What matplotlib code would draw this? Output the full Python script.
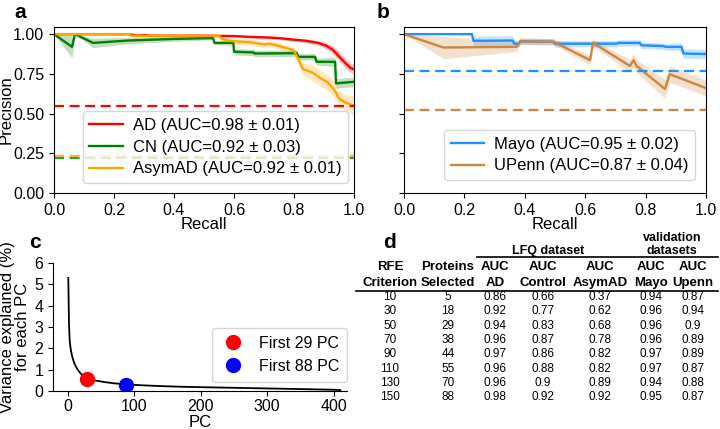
import numpy as np
import matplotlib
matplotlib.use('Agg')
import matplotlib.pyplot as plt

plt.rcParams['font.family'] = ['Liberation Sans', 'DejaVu Sans']

# ---- panel a: PR curves, LFQ dataset
ad_x = [0, 0.25, 0.28, 0.30, 0.32, 0.40, 0.50, 0.60, 0.65, 0.70, 0.75, 0.80, 0.84, 0.88, 0.91, 0.93, 0.95, 0.97, 0.99, 1.0]
ad_y = [1.0, 1.0, 0.99, 0.995, 0.99, 0.99, 0.99, 0.988, 0.983, 0.98, 0.975, 0.965, 0.958, 0.945, 0.925, 0.9, 0.86, 0.82, 0.785, 0.78]
ad_err = [0, 0, 0.005, 0.005, 0.005, 0.005, 0.005, 0.005, 0.008, 0.01, 0.01, 0.01, 0.012, 0.015, 0.02, 0.025, 0.03, 0.03, 0.03, 0.03]

cn_x = [0, 0.06, 0.07, 0.13, 0.25, 0.40, 0.53, 0.535, 0.598, 0.60, 0.664, 0.67, 0.809, 0.815, 0.87, 0.875, 0.937, 0.94, 1.0]
cn_y = [1.0, 0.92, 1.0, 0.945, 0.96, 0.97, 0.975, 0.945, 0.945, 0.889, 0.885, 0.878, 0.88, 0.857, 0.857, 0.826, 0.826, 0.69, 0.70]
cn_err = [0, 0.07, 0.0, 0.03, 0.02, 0.015, 0.01, 0.01, 0.015, 0.02, 0.02, 0.02, 0.02, 0.02, 0.02, 0.02, 0.03, 0.03, 0.03]

asym_x = [0, 0.25, 0.26, 0.55, 0.56, 0.58, 0.60, 0.65, 0.70, 0.72, 0.75, 0.78, 0.80, 0.81, 0.83, 0.86, 0.89, 0.91, 0.93, 0.94, 0.95, 0.97, 1.0]
asym_y = [1.0, 1.0, 0.99, 0.99, 0.97, 0.96, 0.955, 0.95, 0.935, 0.94, 0.925, 0.91, 0.895, 0.86, 0.78, 0.76, 0.72, 0.70, 0.66, 0.63, 0.595, 0.57, 0.55]
asym_err = [0, 0, 0.01, 0.01, 0.015, 0.02, 0.02, 0.02, 0.02, 0.02, 0.02, 0.02, 0.02, 0.03, 0.04, 0.05, 0.05, 0.05, 0.05, 0.05, 0.05, 0.05, 0.06]

base_a = {'AD': 0.55, 'CN': 0.22, 'AsymAD': 0.235}

# ---- panel b: validation datasets
mayo_x = [0, 0.225, 0.23, 0.36, 0.365, 0.38, 0.385, 0.494, 0.50, 0.704, 0.71, 0.781, 0.786, 0.859, 0.865, 0.919, 0.925, 1.0]
mayo_y = [1.0, 1.0, 0.958, 0.96, 0.94, 0.94, 0.955, 0.952, 0.94, 0.94, 0.945, 0.945, 0.93, 0.925, 0.92, 0.92, 0.878, 0.875]
mayo_err = [0, 0, 0.03, 0.03, 0.02, 0.02, 0.02, 0.02, 0.02, 0.02, 0.02, 0.02, 0.02, 0.02, 0.02, 0.025, 0.03, 0.03]

upenn_x = [0, 0.13, 0.373, 0.384, 0.495, 0.616, 0.626, 0.748, 0.76, 0.77, 0.864, 0.88, 1.0]
upenn_y = [1.0, 0.916, 0.92, 0.955, 0.952, 0.836, 0.945, 0.80, 0.836, 0.80, 0.655, 0.748, 0.66]
upenn_err = [0, 0.07, 0.03, 0.02, 0.02, 0.03, 0.02, 0.04, 0.04, 0.04, 0.06, 0.05, 0.05]

base_b = {'Mayo': 0.767, 'UPenn': 0.522}

# ---- panel c: PCA explained variance
pc = [1, 2, 3, 4, 5, 7, 10, 14, 20, 29, 40, 55, 70, 88, 110, 140, 170, 200, 250, 300, 350, 400, 410]
var_exp = [5.3, 3.2, 2.4, 2.1, 1.9, 1.6, 1.3, 1.05, 0.8, 0.6, 0.5, 0.42, 0.36, 0.31, 0.27, 0.23, 0.2, 0.18, 0.15, 0.12, 0.09, 0.06, 0.04]
pc_marks = [29, 88]
pc_mark_vals = [0.58, 0.3]

# ---- panel d: table
rfe = ['10', '30', '50', '70', '90', '110', '130', '150']
n_prot = ['5', '18', '29', '38', '44', '55', '70', '88']
auc_ad = ['0.86', '0.92', '0.94', '0.96', '0.97', '0.96', '0.96', '0.98']
auc_ctrl = ['0.66', '0.77', '0.83', '0.87', '0.86', '0.88', '0.9', '0.92']
auc_asym = ['0.37', '0.62', '0.68', '0.78', '0.82', '0.82', '0.89', '0.92']
auc_mayo = ['0.94', '0.96', '0.96', '0.96', '0.97', '0.97', '0.94', '0.95']
auc_upenn = ['0.87', '0.94', '0.9', '0.89', '0.89', '0.87', '0.88', '0.87']


def band(ax, x, y, err, color, label):
    y = np.array(y)
    err = np.array(err)
    ax.fill_between(x, y - err, np.minimum(y + err, 1.0), color=color, alpha=0.25, lw=0)
    ax.plot(x, y, color=color, lw=1.7, label=label)


fig = plt.figure(figsize=(7.2, 4.29), dpi=100)
W, H = 720, 429


def axes_px(l, t, r, b):
    return fig.add_axes([l / W, 1 - b / H, (r - l) / W, (b - t) / H])


ax_a = axes_px(54, 27, 354, 193)
ax_b = axes_px(404, 27, 706, 193)
ax_c = axes_px(53, 263, 347, 391)

dash = (4.5, 2.5)

# a
band(ax_a, ad_x, ad_y, ad_err, 'red', 'AD (AUC=0.98 ± 0.01)')
band(ax_a, cn_x, cn_y, cn_err, 'green', 'CN (AUC=0.92 ± 0.03)')
band(ax_a, asym_x, asym_y, asym_err, 'orange', 'AsymAD (AUC=0.92 ± 0.01)')
ax_a.axhline(base_a['AD'], color='red', ls=(0, dash), lw=1.6)
ax_a.axhline(base_a['CN'], color='green', ls=(0, dash), lw=1.6, alpha=0.8)
ax_a.axhline(base_a['AsymAD'], color='orange', ls=(0, dash), lw=1.6, alpha=0.8)
ax_a.set_xlim(0, 1)
ax_a.set_ylim(0, 1.045)
ax_a.set_yticks([0, 0.25, 0.5, 0.75, 1.0])
ax_a.set_ylabel('Precision', fontsize=12)
ax_a.yaxis.set_label_coords(-0.135, 0.5)
ax_a.set_xlabel('Recall', fontsize=12)
ax_a.xaxis.set_label_coords(0.5, -0.145)
ax_a.legend(loc='lower right', fontsize=12, handlelength=2.0, handletextpad=0.6,
            borderaxespad=0, bbox_to_anchor=(0.98, 0.06), labelspacing=0.4)

# b
band(ax_b, mayo_x, mayo_y, mayo_err, 'dodgerblue', 'Mayo (AUC=0.95 ± 0.02)')
band(ax_b, upenn_x, upenn_y, upenn_err, 'peru', 'UPenn (AUC=0.87 ± 0.04)')
ax_b.axhline(base_b['Mayo'], color='dodgerblue', ls=(0, dash), lw=1.6)
ax_b.axhline(base_b['UPenn'], color='peru', ls=(0, dash), lw=1.6)
ax_b.set_xlim(0, 1)
ax_b.set_ylim(0, 1.045)
ax_b.set_yticks([0, 0.25, 0.5, 0.75, 1.0])
ax_b.set_yticklabels([])
ax_b.set_xlabel('Recall', fontsize=12)
ax_b.xaxis.set_label_coords(0.5, -0.145)
ax_b.legend(loc='lower right', fontsize=12, handlelength=2.0, handletextpad=0.6,
            borderaxespad=0, bbox_to_anchor=(0.964, 0.078), labelspacing=0.4)

for ax in (ax_a, ax_b):
    ax.tick_params(labelsize=11.5)

# c
ax_c.plot(pc, var_exp, color='black', lw=1.3)
ax_c.plot(pc_marks[0], pc_mark_vals[0], 'o', color='red', ms=10, label='First 29 PC')
ax_c.plot(pc_marks[1], pc_mark_vals[1], 'o', color='blue', ms=10, label='First 88 PC')
ax_c.set_xlim(-22, 420)
ax_c.set_ylim(0, 6)
ax_c.set_xticks([0, 100, 200, 300, 400])
ax_c.set_yticks(range(7))
ax_c.spines['top'].set_visible(False)
ax_c.spines['right'].set_visible(False)
ax_c.tick_params(labelsize=11.5)
ax_c.tick_params(axis='x', pad=2.5)
ax_c.set_xlabel('PC', fontsize=12)
ax_c.xaxis.set_label_coords(0.5, -0.19)
ax_c.set_ylabel('Variance explained (%)\nfor each PC', fontsize=12, linespacing=1.0)
ax_c.yaxis.set_label_coords(-0.078, 0.5)
ax_c.legend(loc='lower right', fontsize=11.5, bbox_to_anchor=(1.0, 0.07), borderaxespad=0,
            borderpad=0.5, handletextpad=0.8, handlelength=1.6)

# panel letters
for lab, x, y in [('a', 20, 12), ('b', 383, 12), ('c', 35, 242), ('d', 389, 242)]:
    fig.text(x / W, 1 - y / H, lab, fontsize=15, fontweight='bold', ha='center', va='center')

# d: table
col_x = [390, 448, 495, 543, 600, 651, 693]
hdr1 = ['RFE', 'Proteins', 'AUC', 'AUC', 'AUC', 'AUC', 'AUC']
hdr2 = ['Criterion', 'Selected', 'AD', 'Control', 'AsymAD', 'Mayo', 'Upenn']


def ftxt(x, y, s, **kw):
    fig.text(x / W, 1 - y / H, s, ha='center', va='center', **kw)


ftxt(548, 251, 'LFQ dataset', fontsize=9, fontweight='bold')
ftxt(672, 238, 'validation', fontsize=9, fontweight='bold')
ftxt(672, 251, 'datasets', fontsize=9, fontweight='bold')
fig.add_artist(plt.Line2D([477 / W, 718 / W], [1 - 257 / H, 1 - 257 / H], color='black', lw=1.2))
for cx, h1, h2 in zip(col_x, hdr1, hdr2):
    ftxt(cx, 267, h1, fontsize=9.5, fontweight='bold')
    ftxt(cx, 283, h2, fontsize=9.5, fontweight='bold')
fig.add_artist(plt.Line2D([356 / W, 718 / W], [1 - 291 / H, 1 - 291 / H], color='black', lw=1.2))

cols = [rfe, n_prot, auc_ad, auc_ctrl, auc_asym, auc_mayo, auc_upenn]
for i in range(len(rfe)):
    y = 297 + i * 14.3
    for cx, col in zip(col_x, cols):
        ftxt(cx, y, col[i], fontsize=8.5)

fig.savefig('out.png', dpi=100)
